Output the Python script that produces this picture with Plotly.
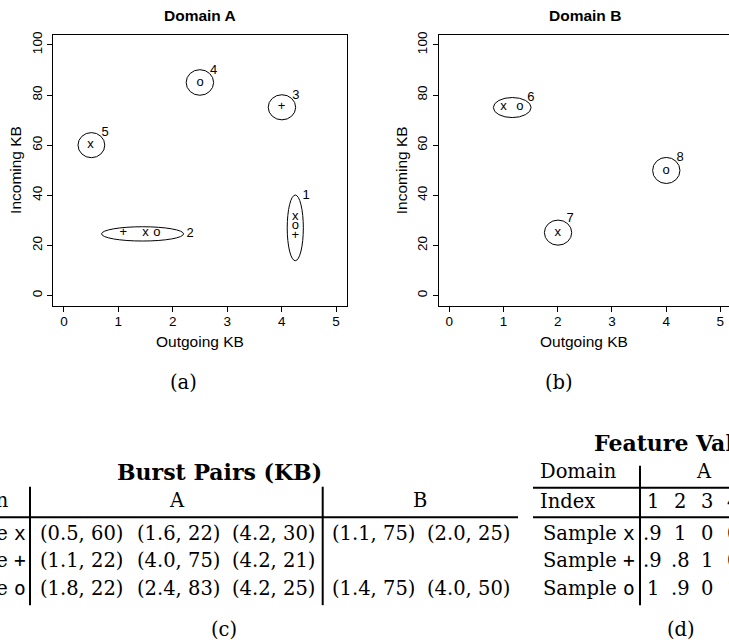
import plotly.graph_objects as go

W, H = 729, 642

# ---------------- data: scatter panels ----------------
# Domain A samples (symbol, outgoing KB, incoming KB)
a_sym = ["x", "x", "x", "+", "+", "+", "o", "o", "o"]
a_x = [0.49, 1.50, 4.25, 1.09, 4.00, 4.25, 1.71, 2.50, 4.25]
a_y = [60.0, 25.0, 31.4, 25.0, 75.5, 24.0, 25.0, 85.0, 28.0]

# Domain A clusters (id, centre x, centre y, radius x, radius y, label x, label y)
a_cid = ["1", "2", "3", "4", "5"]
a_cx = [4.25, 1.445, 4.005, 2.498, 0.505]
a_cy = [27.0, 24.6, 75.1, 85.0, 60.0]
a_rx = [0.148, 0.753, 0.252, 0.252, 0.246]
a_ry = [13.1, 2.85, 5.0, 5.1, 5.0]
a_lx = [4.45, 2.32, 4.26, 2.75, 0.757]
a_ly = [39.7, 24.5, 79.9, 89.8, 64.9]

# Domain B samples
b_sym = ["x", "o", "x", "o"]
b_x = [1.00, 1.30, 2.00, 4.00]
b_y = [75.2, 75.2, 25.0, 49.9]

# Domain B clusters
b_cid = ["6", "7", "8"]
b_cx = [1.16, 2.006, 4.003]
b_cy = [75.0, 25.1, 49.9]
b_rx = [0.348, 0.252, 0.252]
b_ry = [4.0, 5.0, 5.2]
b_lx = [1.504, 2.23, 4.26]
b_ly = [78.9, 30.6, 55.0]

x_ticks = [0, 1, 2, 3, 4, 5]
y_ticks = [0, 20, 40, 60, 80, 100]

# ---------------- data: tables ----------------
burst_title = "Burst Pairs (KB)"
burst_cols = ["Domain", "A", "B"]
sample_syms = ["x", "+", "o"]
burst_A = [[(0.5, 60), (1.6, 22), (4.2, 30)],
           [(1.1, 22), (4.0, 75), (4.2, 21)],
           [(1.8, 22), (2.4, 83), (4.2, 25)]]
burst_B = [[(1.1, 75), (2.0, 25)],
           [],
           [(1.4, 75), (4.0, 50)]]

feat_title = "Feature Values"
feat_index = ["1", "2", "3", "4"]
feat_A = [[".9", "1", "0", "0"],
          [".9", ".8", "1", "0"],
          ["1", ".9", "0", "1"]]

captions = ["(a)", "(b)", "(c)", "(d)"]

# ---------------- styles / layout constants ----------------
SANS = "Liberation Sans"
SERIF = "DejaVu Serif"
MONO = "DejaVu Sans Mono"
TICK_SIZE = 13.5
LAB_SIZE = 15.5
PT_SIZE = 13
TAB_SIZE = 19.5
TAB_TITLE_SIZE = 22


def px(x):
    return x / W


def py(y):
    return 1 - y / H


fig = go.Figure()

# scatter panels
panels = [
    ("x", "y", a_sym, a_x, a_y, a_cid, a_cx, a_cy, a_rx, a_ry, a_lx, a_ly),
    ("x2", "y2", b_sym, b_x, b_y, b_cid, b_cx, b_cy, b_rx, b_ry, b_lx, b_ly),
]
for xr, yr, sym, xs, ys, cid, cx, cy, rx, ry, lx, ly in panels:
    fig.add_trace(go.Scatter(
        x=xs, y=ys, text=sym, mode="text", textposition="middle center",
        textfont=dict(family=SANS, size=PT_SIZE, color="black"),
        xaxis=xr, yaxis=yr, showlegend=False, hoverinfo="skip"))
    fig.add_trace(go.Scatter(
        x=lx, y=ly, text=cid, mode="text", textposition="middle center",
        textfont=dict(family=SANS, size=PT_SIZE, color="black"),
        xaxis=xr, yaxis=yr, showlegend=False, hoverinfo="skip"))
    for i in range(len(cid)):
        fig.add_shape(type="circle", xref=xr, yref=yr,
                      x0=cx[i] - rx[i], x1=cx[i] + rx[i],
                      y0=cy[i] - ry[i], y1=cy[i] + ry[i],
                      line=dict(color="black", width=1))

axis_common = dict(
    showgrid=False, zeroline=False, showline=True, linecolor="black",
    linewidth=1, ticks="outside", ticklen=5, tickwidth=1, tickcolor="black",
    tickfont=dict(family=SANS, size=TICK_SIZE, color="black"),
)

fig.update_layout(
    width=W, height=H,
    margin=dict(l=0, r=0, t=0, b=0, pad=0),
    paper_bgcolor="white", plot_bgcolor="white",
    xaxis=dict(domain=[px(53), px(347)], range=[-0.2, 5.2],
               tickvals=x_ticks, mirror=True, anchor="y",
               ticklabelstandoff=-2, **axis_common),
    yaxis=dict(domain=[py(304), py(32)], range=[-4, 104],
               tickvals=y_ticks, mirror=True, anchor="x", tickangle=-90,
               **axis_common),
    xaxis2=dict(domain=[px(438.5), 1.0], range=[-0.2, 5.16],
                tickvals=x_ticks, mirror=True, anchor="y2",
                ticklabelstandoff=-2, **axis_common),
    yaxis2=dict(domain=[py(304), py(32)], range=[-4, 104],
                tickvals=y_ticks, mirror=False, anchor="x2", tickangle=-90,
                **axis_common),
)

ann = []


def txt(x, y, s, size, family=SERIF, xa="center", ya="middle", angle=0):
    ann.append(dict(x=px(x), y=py(y), xref="paper", yref="paper", text=s,
                    showarrow=False, xanchor=xa, yanchor=ya, textangle=angle,
                    font=dict(family=family, size=size, color="black")))


# panel titles / axis titles
txt(200, 13, "<b>Domain A</b>", 15.5, SANS)
txt(585, 13, "<b>Domain B</b>", 15.5, SANS)
txt(200, 340, "Outgoing KB", LAB_SIZE, SANS)
txt(584, 340, "Outgoing KB", LAB_SIZE, SANS)
txt(15.7, 168, "Incoming KB", LAB_SIZE, SANS, angle=-90)
txt(401, 168, "Incoming KB", LAB_SIZE, SANS, angle=-90)

# captions
cap_pos = [(184, 381), (559, 381), (224, 629), (681, 629)]
for c, (cx_, cy_) in zip(captions, cap_pos):
    txt(cx_, cy_, c, TAB_SIZE)


def sample_label(s):
    return "Sample <span style='font-family:%s'>%s</span>" % (MONO, s)


def pair(p):
    return "(%.1f, %d)" % p


# table (c): Burst Pairs
row_y = [533, 560.5, 588]
txt(219, 471, "<b>%s</b>" % burst_title, TAB_TITLE_SIZE)
txt(11, 500, burst_cols[0], TAB_SIZE, xa="right")
txt(177, 500, burst_cols[1], TAB_SIZE)
txt(420, 500, burst_cols[2], TAB_SIZE)
a_group_x = [81, 178, 273.5]
b_group_x = [373, 468]
for r, s in enumerate(sample_syms):
    txt(27.5, row_y[r], sample_label(s), TAB_SIZE, xa="right")
    for g, p in enumerate(burst_A[r]):
        txt(a_group_x[g], row_y[r], pair(p), TAB_SIZE)
    for g, p in enumerate(burst_B[r]):
        txt(b_group_x[g], row_y[r], pair(p), TAB_SIZE)

# table (d): Feature Values
txt(592, 442, "<b>%s</b>" % feat_title, TAB_TITLE_SIZE, xa="left")
txt(538, 471, "Domain", TAB_SIZE, xa="left")
txt(704, 471, "A", TAB_SIZE)
txt(538, 501, "Index", TAB_SIZE, xa="left")
feat_col_x = [652.5, 680, 706.5, 733]
for j, v in enumerate(feat_index):
    txt(feat_col_x[j], 501, v, TAB_SIZE)
for r, s in enumerate(sample_syms):
    txt(636.5, row_y[r], sample_label(s), TAB_SIZE, xa="right")
    for j, v in enumerate(feat_A[r]):
        txt(feat_col_x[j], row_y[r], v, TAB_SIZE)

fig.update_layout(annotations=ann)


def hline(x0, x1, y, w=2):
    fig.add_shape(type="line", xref="paper", yref="paper",
                  x0=px(x0), x1=px(x1), y0=py(y), y1=py(y),
                  line=dict(color="black", width=w))


def vline(x, y0, y1, w=2):
    fig.add_shape(type="line", xref="paper", yref="paper",
                  x0=px(x), x1=px(x), y0=py(y0), y1=py(y1),
                  line=dict(color="black", width=w))


vline(30, 486, 605)
vline(322.7, 486, 605)
hline(-10, 518, 516.7)
vline(640, 465, 605)
hline(533, 745, 487)
hline(533, 745, 516.7)

# remove the default page margin so the figure sits at the window's corner
fig.write_html("out.html", config={"displayModeBar": False},
               post_script="document.body.style.margin='0';")
